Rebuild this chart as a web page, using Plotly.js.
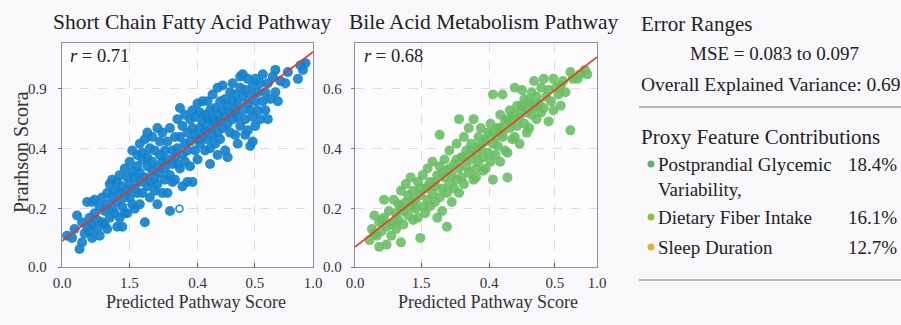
<!DOCTYPE html>
<html><head><meta charset="utf-8">
<script src="https://cdn.plot.ly/plotly-3.0.1.min.js"></script>
<style>html,body{margin:0;padding:0;background:#f8f8fa}#c{width:901px;height:325px}</style>
</head><body><div id="c"></div>
<script>
// ---------- data (normalized axis units) ----------
const sfaX = [0.02,0.04,0.05,0.06,0.07,0.08,0.08,0.09,0.10,0.10,0.11,0.12,0.12,0.12,0.13,0.14,0.14,0.15,0.15,0.13,0.11,
0.16,0.16,0.17,0.17,0.18,0.18,0.18,0.19,0.19,0.20,0.20,0.20,0.21,0.21,0.22,0.22,0.22,0.23,0.23,0.23,0.24,0.24,0.24,0.25,0.25,0.25,
0.26,0.26,0.26,0.27,0.27,0.27,0.28,0.28,0.28,0.29,0.29,0.29,0.30,0.30,0.30,0.31,0.31,0.31,0.31,0.32,0.32,0.32,0.33,0.33,0.33,0.34,0.34,0.34,0.34,0.35,0.35,0.35,
0.36,0.36,0.36,0.37,0.37,0.37,0.38,0.38,0.38,0.38,0.39,0.39,0.39,0.40,0.40,0.40,0.41,0.41,0.41,0.42,0.42,0.42,0.43,0.43,0.43,0.44,0.44,0.44,0.45,0.45,0.45,
0.46,0.46,0.46,0.47,0.47,0.47,0.48,0.48,0.48,0.49,0.49,0.49,0.50,0.50,0.50,0.51,0.51,0.51,0.52,0.52,0.52,0.53,0.53,0.53,0.54,0.54,0.54,0.55,0.55,0.55,
0.56,0.56,0.56,0.57,0.57,0.57,0.58,0.58,0.58,0.59,0.59,0.59,0.60,0.60,0.60,0.61,0.61,0.61,0.62,0.62,0.62,0.63,0.63,0.63,0.64,0.64,0.64,0.65,0.65,0.65,0.59,0.62,
0.66,0.66,0.66,0.67,0.67,0.67,0.68,0.68,0.68,0.69,0.69,0.69,0.70,0.70,0.70,0.71,0.71,0.71,0.72,0.72,0.72,0.73,0.73,0.73,0.74,0.74,0.74,0.75,0.75,0.75,
0.76,0.76,0.76,0.77,0.77,0.77,0.78,0.78,0.79,0.79,0.80,0.80,0.81,0.81,0.82,0.82,0.83,0.84,0.85,0.85,
0.86,0.87,0.89,0.90,0.94,0.95,0.97,0.96];
const sfaY = [0.14,0.13,0.17,0.23,0.08,0.11,0.20,0.15,0.29,0.18,0.22,0.13,0.29,0.19,0.24,0.17,0.21,0.27,0.14,0.30,0.16,
0.20,0.31,0.25,0.19,0.17,0.33,0.28,0.22,0.37,0.26,0.39,0.31,0.24,0.34,0.18,0.29,0.38,0.22,0.33,0.41,0.18,0.27,0.36,0.31,0.24,0.44,
0.24,0.34,0.40,0.31,0.47,0.37,0.28,0.43,0.52,0.35,0.40,0.26,0.33,0.45,0.50,0.38,0.42,0.55,0.28,0.33,0.48,0.51,0.20,0.40,0.57,0.36,0.45,0.49,0.60,0.31,0.38,0.53,
0.43,0.58,0.47,0.34,0.40,0.52,0.28,0.45,0.62,0.37,0.50,0.42,0.56,0.33,0.47,0.60,0.39,0.52,0.44,0.33,0.56,0.48,0.25,0.41,0.62,0.46,0.52,0.38,0.39,0.58,0.49,
0.46,0.66,0.53,0.44,0.71,0.58,0.50,0.36,0.63,0.55,0.68,0.47,0.38,0.52,0.60,0.66,0.45,0.56,0.70,0.38,0.62,0.52,0.59,0.67,0.57,0.73,0.48,0.62,0.55,0.69,
0.74,0.58,0.65,0.52,0.68,0.61,0.74,0.57,0.66,0.70,0.62,0.53,0.77,0.66,0.59,0.71,0.64,0.55,0.80,0.68,0.60,0.74,0.65,0.57,0.70,0.81,0.62,0.67,0.52,0.75,0.46,0.50,
0.49,0.72,0.64,0.78,0.69,0.60,0.74,0.66,0.82,0.70,0.59,0.77,0.55,0.73,0.67,0.80,0.63,0.85,0.86,0.70,0.76,0.79,0.66,0.59,0.73,0.84,0.61,0.77,0.70,0.54,
0.56,0.81,0.67,0.74,0.63,0.84,0.78,0.70,0.82,0.66,0.74,0.86,0.78,0.70,0.66,0.82,0.75,0.85,0.78,0.88,
0.74,0.83,0.82,0.87,0.84,0.90,0.91,0.88];
const sfaOpenX = [0.468];
const sfaOpenY = [0.26];
const sfaFitX = [0, 1];
const sfaFitY = [0.116, 0.96];
const sfaR = "0.71";

const bileX = [0.06,0.07,0.08,0.09,0.10,0.10,0.11,0.12,0.12,0.13,0.13,0.14,0.15,0.16,0.16,0.17,0.17,0.18,0.18,0.19,0.19,0.20,0.20,0.21,0.21,0.22,0.22,0.23,0.23,0.24,0.24,0.25,0.25,0.26,0.26,0.27,0.27,0.28,0.28,0.29,0.29,0.30,0.30,0.31,0.31,0.32,0.32,0.33,0.33,0.34,0.34,0.35,0.35,0.35,0.36,0.36,0.37,0.37,0.38,0.38,0.38,0.39,0.39,0.40,0.40,0.41,0.41,0.42,0.42,0.43,0.43,0.43,0.44,0.44,0.45,0.45,0.46,0.46,0.47,0.47,0.48,0.48,0.49,0.49,0.50,0.50,0.50,0.51,0.51,0.52,0.52,0.53,0.53,0.54,0.54,0.55,0.55,0.56,0.56,0.57,0.57,0.57,0.58,0.58,0.59,0.59,0.60,0.60,0.61,0.61,0.61,0.62,0.62,0.63,0.63,0.64,0.64,0.65,0.65,0.66,0.66,0.67,0.67,0.68,0.68,0.69,0.69,0.70,0.70,0.71,0.71,0.72,0.72,0.73,0.73,0.74,0.74,0.75,0.75,0.76,0.77,0.77,0.78,0.78,0.79,0.80,0.80,0.81,0.82,0.82,0.83,0.84,0.85,0.85,0.86,0.87,0.89,0.89,0.90,0.92,0.93,0.95,0.96,
0.08,0.11,0.15,0.19,0.24,0.27,0.30,0.33,0.36,0.39,0.42,0.45,0.48,0.51,0.54,0.57,0.60,0.63,0.66,0.69,0.72,0.75];
const bileY = [0.12,0.17,0.23,0.14,0.09,0.20,0.16,0.30,0.22,0.10,0.18,0.25,0.14,0.30,0.20,0.24,0.17,0.28,0.21,0.34,0.11,0.25,0.19,0.37,0.29,0.23,0.32,0.27,0.40,0.21,0.34,0.30,0.26,0.38,0.22,0.32,0.13,0.27,0.41,0.35,0.24,0.30,0.44,0.38,0.27,0.33,0.47,0.36,0.29,0.41,0.22,0.59,0.31,0.45,0.35,0.25,0.40,0.48,0.18,0.33,0.43,0.37,0.52,0.41,0.29,0.46,0.35,0.55,0.39,0.66,0.44,0.33,0.49,0.40,0.58,0.37,0.45,0.52,0.62,0.42,0.48,0.55,0.66,0.39,0.51,0.44,0.40,0.58,0.47,0.53,0.62,0.43,0.49,0.56,0.44,0.60,0.51,0.47,0.64,0.55,0.77,0.39,0.58,0.50,0.62,0.54,0.68,0.47,0.77,0.58,0.60,0.52,0.65,0.40,0.51,0.62,0.70,0.57,0.66,0.80,0.58,0.63,0.72,0.67,0.55,0.79,0.70,0.64,0.75,0.69,0.60,0.74,0.62,0.78,0.68,0.71,0.83,0.66,0.76,0.73,0.80,0.69,0.71,0.84,0.76,0.65,0.79,0.74,0.84,0.70,0.80,0.77,0.72,0.81,0.83,0.78,0.87,0.61,0.84,0.84,0.86,0.88,0.86,
0.15,0.21,0.19,0.27,0.29,0.35,0.36,0.38,0.42,0.44,0.48,0.49,0.52,0.54,0.57,0.60,0.62,0.66,0.68,0.72,0.73,0.72];
const bileFitX = [0, 1];
const bileFitY = [0.089, 0.9375];
const bileR = "0.68";

const xTickVals1 = [0, 0.268, 0.54, 0.768, 1.0];
const xTickVals2 = [0, 0.273, 0.554, 0.826, 1.0];
const xTickText = ["0.0", "1.5", "0.4", "0.5", "1.0"];
const yTickVals = [0, 0.26, 0.527, 0.795];
const yTickText1 = ["0.0", "0.2", "0.4", "0.9"];
const yTickText2 = ["0.0", "0.2", "0.4", "0.6"];

const featNames = ["Postprandial Glycemic<br>Variability,", "Dietary Fiber Intake", "Sleep Duration"];
const featPct = ["18.4%", "16.1%", "12.7%"];
const featColors = ["#5bb565", "#8cc447", "#e2b23c"];

// ---------- layout helpers ----------
const W = 901, H = 325;
const px = v => v / W, py = v => 1 - v / H;
const FONT = "Liberation Serif";

const blue = "rgba(20,130,205,0.92)";
const green = "rgba(104,189,98,0.88)";

const traces = [
  {x: sfaX, y: sfaY, xaxis: "x", yaxis: "y", type: "scatter", mode: "markers",
   marker: {color: blue, size: 10}, hoverinfo: "skip"},
  {x: sfaOpenX, y: sfaOpenY, xaxis: "x", yaxis: "y", type: "scatter", mode: "markers",
   marker: {color: "white", size: 7, line: {color: "#1a85cf", width: 1.5}}, hoverinfo: "skip"},
  {x: sfaFitX, y: sfaFitY, xaxis: "x", yaxis: "y", type: "scatter", mode: "lines",
   line: {color: "#e5332a", width: 1.6}, hoverinfo: "skip"},
  {x: bileX, y: bileY, xaxis: "x2", yaxis: "y2", type: "scatter", mode: "markers",
   marker: {color: green, size: 10}, hoverinfo: "skip"},
  {x: bileFitX, y: bileFitY, xaxis: "x2", yaxis: "y2", type: "scatter", mode: "lines",
   line: {color: "#ee3a1e", width: 1.6}, hoverinfo: "skip"}
];

const axCommon = {
  range: [0, 1], showgrid: true, gridcolor: "#d9dce3", griddash: "dash", gridwidth: 1,
  zeroline: false, showline: true, mirror: true, linecolor: "#8a9099", linewidth: 1.3,
  tickfont: {family: FONT, size: 15, color: "#333"}, fixedrange: true
};
const xa = (dom, vals) => Object.assign({}, axCommon, {domain: dom, tickmode: "array", tickvals: vals, ticktext: xTickText,
  ticks: "inside", ticklen: 4, tickcolor: "#555", ticklabelstandoff: 2});
const ya = (txt, anchor, so) => Object.assign({}, axCommon, {domain: [py(267), py(43)], anchor: anchor,
  tickmode: "array", tickvals: yTickVals, ticktext: txt, ticks: "outside", ticklen: 3, tickcolor: "#777", ticklabelstandoff: so});

const A = (o) => Object.assign({xref: "paper", yref: "paper", showarrow: false, xanchor: "center", yanchor: "middle"}, o);
const annotations = [
  A({text: "Short Chain Fatty Acid Pathway", x: px(192), y: py(22), font: {family: FONT, size: 21.5, color: "#222"}}),
  A({text: "Bile Acid Metabolism Pathway", x: px(484), y: py(22), font: {family: FONT, size: 21.5, color: "#222"}}),
  A({text: "<i>r</i> = " + sfaR, x: px(68), y: py(56), xanchor: "left", font: {family: FONT, size: 18.5, color: "#222"}}),
  A({text: "<i>r</i> = " + bileR, x: px(362), y: py(56), xanchor: "left", font: {family: FONT, size: 18.5, color: "#222"}}),
  A({text: "Predicted Pathway Score", x: px(196), y: py(302), font: {family: FONT, size: 18, color: "#333"}}),
  A({text: "Predicted Pathway Score", x: px(488), y: py(302), font: {family: FONT, size: 18, color: "#333"}}),
  A({text: "Prarhson Scora", x: px(21), y: py(152), textangle: -90, font: {family: FONT, size: 20, color: "#333"}}),
  A({text: "Error Ranges", x: px(639), y: py(24), xanchor: "left", font: {family: FONT, size: 21, color: "#222"}}),
  A({text: "MSE = 0.083 to 0.097", x: px(774), y: py(53), font: {family: FONT, size: 19, color: "#222"}}),
  A({text: "Overall Explained Variance: 0.69", x: px(639), y: py(85), xanchor: "left", font: {family: FONT, size: 19.5, color: "#222"}}),
  A({text: "Proxy Feature Contributions", x: px(639), y: py(137), xanchor: "left", font: {family: FONT, size: 21, color: "#222"}})
];
const featY = [164, 217, 247];
const shapes = [
  {type: "line", xref: "paper", yref: "paper", x0: px(639), x1: 1, y0: py(107), y1: py(107), line: {color: "#777", width: 1.2}},
  {type: "line", xref: "paper", yref: "paper", x0: px(639), x1: 1, y0: py(280), y1: py(280), line: {color: "#777", width: 1.2}}
];
featNames.forEach((n, i) => {
  const yy = featY[i];
  annotations.push(A({text: n, x: px(656), y: py(yy - 12), xanchor: "left", yanchor: "top", align: "left",
    font: {family: FONT, size: 19, color: "#222"}}));
  annotations.push(A({text: featPct[i], x: px(899), y: py(yy), xanchor: "right",
    font: {family: FONT, size: 19, color: "#222"}}));
  shapes.push({type: "circle", xref: "paper", yref: "paper", x0: px(647.5), x1: px(654.5), y0: py(yy + 3.5), y1: py(yy - 3.5),
    fillcolor: featColors[i], line: {width: 0}});
});

const layout = {
  width: W, height: H, margin: {l: 0, r: 0, t: 0, b: 0},
  paper_bgcolor: "#f8f8fa", plot_bgcolor: "#fcfcfe", showlegend: false,
  xaxis: xa([px(62), px(313)], xTickVals1),
  yaxis: ya(yTickText1, "x", 8),
  xaxis2: xa([px(355), px(597)], xTickVals2),
  yaxis2: ya(yTickText2, "x2", 6),
  annotations: annotations, shapes: shapes
};
layout.xaxis.anchor = "y"; layout.xaxis2.anchor = "y2";

Plotly.newPlot("c", traces, layout, {staticPlot: true, displayModeBar: false});
</script></body></html>
